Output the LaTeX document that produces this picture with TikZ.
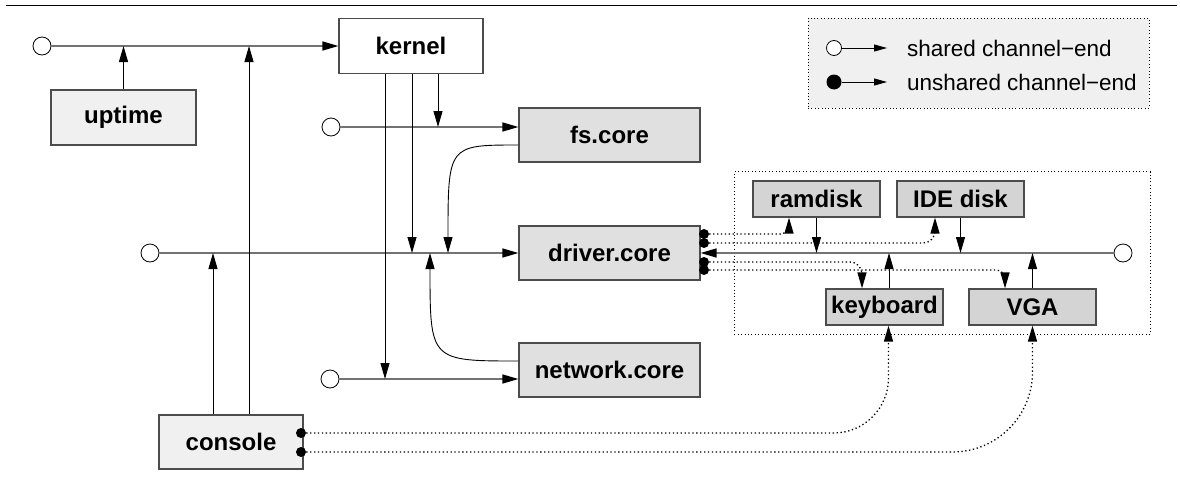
\documentclass[tikz,border=0pt]{standalone}
\usepackage{fontspec}
\setmainfont{Liberation Sans}
\usetikzlibrary{arrows.meta,fit}

\definecolor{chgray}{gray}{0.45}
\definecolor{boxline}{gray}{0.3}
\definecolor{lightfill}{gray}{0.94}
\definecolor{corefill}{gray}{0.88}
\definecolor{drvfill}{gray}{0.83}

\begin{document}
\begin{tikzpicture}[x=1pt, y=-1pt,
    >={Triangle[length=16pt,width=9pt]},
    boxed/.style={draw=boxline, line width=1.2pt, inner sep=0pt,
      font=\fontsize{24}{28}\selectfont\bfseries},
    core/.style={boxed, fill=corefill, minimum width=181pt, minimum height=54pt},
    drv/.style={boxed, fill=drvfill, minimum height=36pt},
    chan/.style={circle, draw, fill=white, line width=0.8pt, minimum size=18pt, inner sep=0pt},
    pin/.style={circle, fill, inner sep=0pt, minimum size=10pt},
    wire/.style={draw=chgray, line width=1.4pt, -{Triangle[length=16pt,width=9pt,color=black]}},
    arr/.style={->, line width=0.9pt},
    link/.style={->, line width=1.3pt, dash pattern=on 1.3pt off 2.6pt},
    frame/.style={draw, line width=1pt, dash pattern=on 1pt off 2.4pt},
  ]
  \useasboundingbox (0,0) rectangle (1180,479);
  \draw[line width=1.6pt] (6,5.5) -- (1177,5.5);

  % components
  \node[boxed, fill=white, minimum width=144pt, minimum height=55pt] (kernel) at (411,46) {kernel};
  \node[boxed, fill=lightfill, minimum width=145pt, minimum height=55pt] (uptime) at (123.5,117.5) {uptime};
  \node[boxed, fill=lightfill, minimum width=144pt, minimum height=54pt] (console) at (231,442) {console};
  \node[core] (fs) at (609.5,135) {fs.core};
  \node[core] (driver) at (609.5,253) {driver.core};
  \node[core] (network) at (609.5,370) {network.core};
  \node[drv, minimum width=127pt] (ramdisk) at (816.5,199) {ramdisk};
  \node[drv, minimum width=127pt] (ide) at (960.5,199) {IDE disk};
  \node[drv, minimum width=117pt] (kbd) at (884.5,307) {keyboard};
  \node[drv, minimum width=127pt] (vga) at (1032.5,307) {VGA};

  % shared channel-ends
  \node[chan] (kin) at (42,46) {};
  \node[chan] (fin) at (331,127) {};
  \node[chan] (din) at (150,253) {};
  \node[chan] (nin) at (330,379) {};
  \node[chan] (rin) at (1123,253) {};
  \node[frame, fit=(ramdisk)(ide)(kbd)(vga)(rin), inner xsep=18pt, inner ysep=8.5pt] (drivers) {};

  \draw[wire] (kin) -- (kernel.west);
  \draw[wire] (fin) -- ([yshift=8pt]fs.west);
  \draw[wire] (din) -- (driver.west);
  \draw[wire] (nin) -- ([yshift=-9pt]network.west);
  \draw[wire] (rin) -- (driver.east);

  \draw[arr] (uptime.north) -- (uptime.north |- kin);
  \draw[arr] ([xshift=18pt]console.north) -- ([xshift=18pt]console.north |- kin);
  \draw[arr] ([xshift=-18pt]console.north) -- ([xshift=-18pt]console.north |- din);
  \draw[arr] ([xshift=-26pt]kernel.south) -- ([xshift=-26pt]kernel.south |- nin);
  \draw[arr] ([xshift=1pt]kernel.south) -- ([xshift=1pt]kernel.south |- din);
  \draw[arr] ([xshift=27pt]kernel.south) -- ([xshift=27pt]kernel.south |- fin);

  \coordinate (fsout) at ([yshift=-10pt]fs.west);
  \coordinate (fsdrop) at (448,253);
  \draw[arr] (fsout) .. controls (fsdrop |- fsout) and (fsdrop |- fsout) .. (fsdrop);
  \coordinate (netout) at ([yshift=9pt]network.west);
  \coordinate (netrise) at (430,253);
  \draw[arr] (netout) .. controls (netrise |- netout) and (netrise |- netout) .. (netrise);

  \draw[arr] (ramdisk.south) -- (ramdisk.south |- rin);
  \draw[arr] (ide.south) -- (ide.south |- rin);
  \draw[arr] ([xshift=4.5pt]kbd.north) -- ([xshift=4.5pt]kbd.north |- rin);
  \draw[arr] (vga.north) -- (vga.north |- rin);

  % unshared channel-ends
  \foreach \n/\y in {d1/234, d2/243, d3/262, d4/270}
    \node[pin] (\n) at (704,\y) {};
  \node[pin] (c1) at (301,433) {};
  \node[pin] (c2) at (301,452) {};

  \draw[link, rounded corners=9pt] (d1) -| ([xshift=-27.5pt]ramdisk.south);
  \draw[link, rounded corners=12pt] (d2) -| ([xshift=-25.5pt]ide.south);
  \draw[link, rounded corners=12pt] (d3) -| ([xshift=-22.5pt]kbd.north);
  \draw[link, rounded corners=9pt] (d4) -| ([xshift=-27.5pt]vga.north);
  \draw[link, rounded corners=55pt] (c1) -| ([xshift=4pt]kbd.south);
  \draw[link, rounded corners=80pt] (c2) -| (vga.south);

  % legend
  \node[frame, fill=lightfill, minimum width=341pt, minimum height=90pt] (legend) at (978.5,63) {};
  \node[chan, minimum size=15pt] (lo) at (834,48) {};
  \node[pin, minimum size=15pt] (lf) at (834,82) {};
  \coordinate (lot) at (887,48);
  \coordinate (lft) at (887,82);
  \draw[-{Triangle[length=13pt,width=7pt]}, line width=0.9pt] (lo) -- (lot);
  \draw[-{Triangle[length=13pt,width=7pt]}, line width=0.9pt] (lf) -- (lft);
  \node[anchor=west, inner sep=0pt, font=\fontsize{22.5}{26}\selectfont] (lshared) at (907,48) {shared channel−end};
  \node[anchor=west, inner sep=0pt, font=\fontsize{22.5}{26}\selectfont] (lunshared) at (907,82) {unshared channel−end};
\end{tikzpicture}
\end{document}
